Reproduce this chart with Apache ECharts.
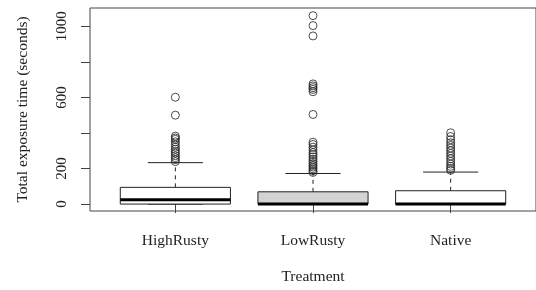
<!DOCTYPE html>
<html>
<head>
<meta charset="utf-8">
<script src="https://cdn.jsdelivr.net/npm/echarts@6/dist/echarts.min.js"></script>
<style>
  html, body { margin: 0; padding: 0; background: #fff; }
  #chart { width: 536px; height: 290px; }
</style>
</head>
<body>
<div id="chart"></div>
<script>
// box statistics per treatment
const categories = ['HighRusty', 'LowRusty', 'Native']
const lowerWhisker = [0, 0, 0]
const q1 = [0, 0, 0]
const median = [24, 0, 0]
const q3 = [94, 69, 75]
const upperWhisker = [233, 172, 180]

// outliers per treatment
const highRustyOut = [601, 500, 382, 372, 364, 350, 336, 320, 308, 295, 286, 272, 261, 250, 239]
const lowRustyOut = [1060, 1004, 946, 676, 665, 655, 645, 632, 504, 348, 335, 320, 305, 290, 278, 265, 252, 240, 228, 218, 208, 198, 188, 178]
const nativeOut = [401, 380, 362, 345, 330, 315, 300, 285, 270, 255, 240, 225, 212, 200, 190]

// axis ticks
const yTicks = [0, 200, 400, 600, 800, 1000]
const yLabels = [0, 200, 600, 1000]

const boxFills = ['#ffffff', '#d3d3d3', '#ffffff']
const lineColor = '#222'
const font = 'Liberation Serif'

const boxData = categories.map((c, i) => [i + 1, lowerWhisker[i], q1[i], median[i], q3[i], upperWhisker[i]])
const outData = []
;[highRustyOut, lowRustyOut, nativeOut].forEach((list, i) => {
  list.forEach(v => outData.push([i + 1, v]))
})

function renderBox(params, api) {
  const x = api.value(0)
  const lo = api.coord([x, api.value(1)])
  const b1 = api.coord([x, api.value(2)])
  const md = api.coord([x, api.value(3)])
  const b3 = api.coord([x, api.value(4)])
  const hi = api.coord([x, api.value(5)])
  const w = api.size([0.8, 0])[0]
  const cx = lo[0]
  const dashed = { stroke: lineColor, lineWidth: 1, lineDash: [4, 4] }
  const solid = { stroke: lineColor, lineWidth: 1 }
  return {
    type: 'group',
    children: [
      { type: 'line', shape: { x1: cx, y1: b3[1], x2: cx, y2: hi[1] }, style: dashed },
      { type: 'line', shape: { x1: cx, y1: b1[1], x2: cx, y2: lo[1] }, style: dashed },
      { type: 'line', shape: { x1: cx - w / 4, y1: hi[1], x2: cx + w / 4, y2: hi[1] }, style: solid },
      { type: 'line', shape: { x1: cx - w / 4, y1: lo[1], x2: cx + w / 4, y2: lo[1] }, style: solid },
      {
        type: 'rect',
        shape: { x: cx - w / 2, y: b3[1], width: w, height: b1[1] - b3[1] },
        style: { fill: boxFills[params.dataIndex], stroke: lineColor, lineWidth: 1 },
      },
      { type: 'line', shape: { x1: cx - w / 2, y1: md[1], x2: cx + w / 2, y2: md[1] }, style: { stroke: '#000', lineWidth: 3 } },
    ],
  }
}

const chart = echarts.init(document.getElementById('chart'))
chart.setOption({
  animation: false,
  grid: {
    left: 90,
    top: 8,
    width: 451,
    height: 204,
    show: true,
    borderColor: '#444',
    borderWidth: 1,
    backgroundColor: 'transparent',
  },
  xAxis: {
    type: 'value',
    min: 0.38,
    max: 3.62,
    name: 'Treatment',
    nameLocation: 'middle',
    nameGap: 58,
    nameTextStyle: { fontFamily: font, fontSize: 15.5, color: '#222' },
    axisLine: { show: false },
    splitLine: { show: false },
    axisTick: { show: true, length: 9, customValues: [1, 2, 3], lineStyle: { color: '#444' } },
    axisLabel: {
      customValues: [1, 2, 3],
      formatter: v => categories[Math.round(v) - 1],
      margin: 22,
      fontFamily: font,
      fontSize: 15.5,
      color: '#222',
    },
  },
  yAxis: {
    type: 'value',
    min: -39,
    max: 1103,
    name: 'Total exposure time (seconds)',
    nameLocation: 'middle',
    nameGap: 59,
    nameTextStyle: { fontFamily: font, fontSize: 15.5, color: '#222' },
    axisLine: { show: false },
    splitLine: { show: false },
    axisTick: { show: true, length: 9, customValues: yTicks, lineStyle: { color: '#444' } },
    axisLabel: {
      customValues: yLabels,
      formatter: v => String(v),
      rotate: 90,
      margin: 20,
      fontFamily: font,
      fontSize: 15,
      color: '#222',
    },
  },
  series: [
    {
      type: 'custom',
      renderItem: renderBox,
      data: boxData,
      encode: { x: 0, y: [1, 2, 3, 4, 5] },
      clip: true,
    },
    {
      type: 'scatter',
      data: outData,
      symbol: 'circle',
      symbolSize: 8,
      itemStyle: { color: 'transparent', borderColor: lineColor, borderWidth: 1 },
    },
  ],
})
</script>
</body>
</html>
